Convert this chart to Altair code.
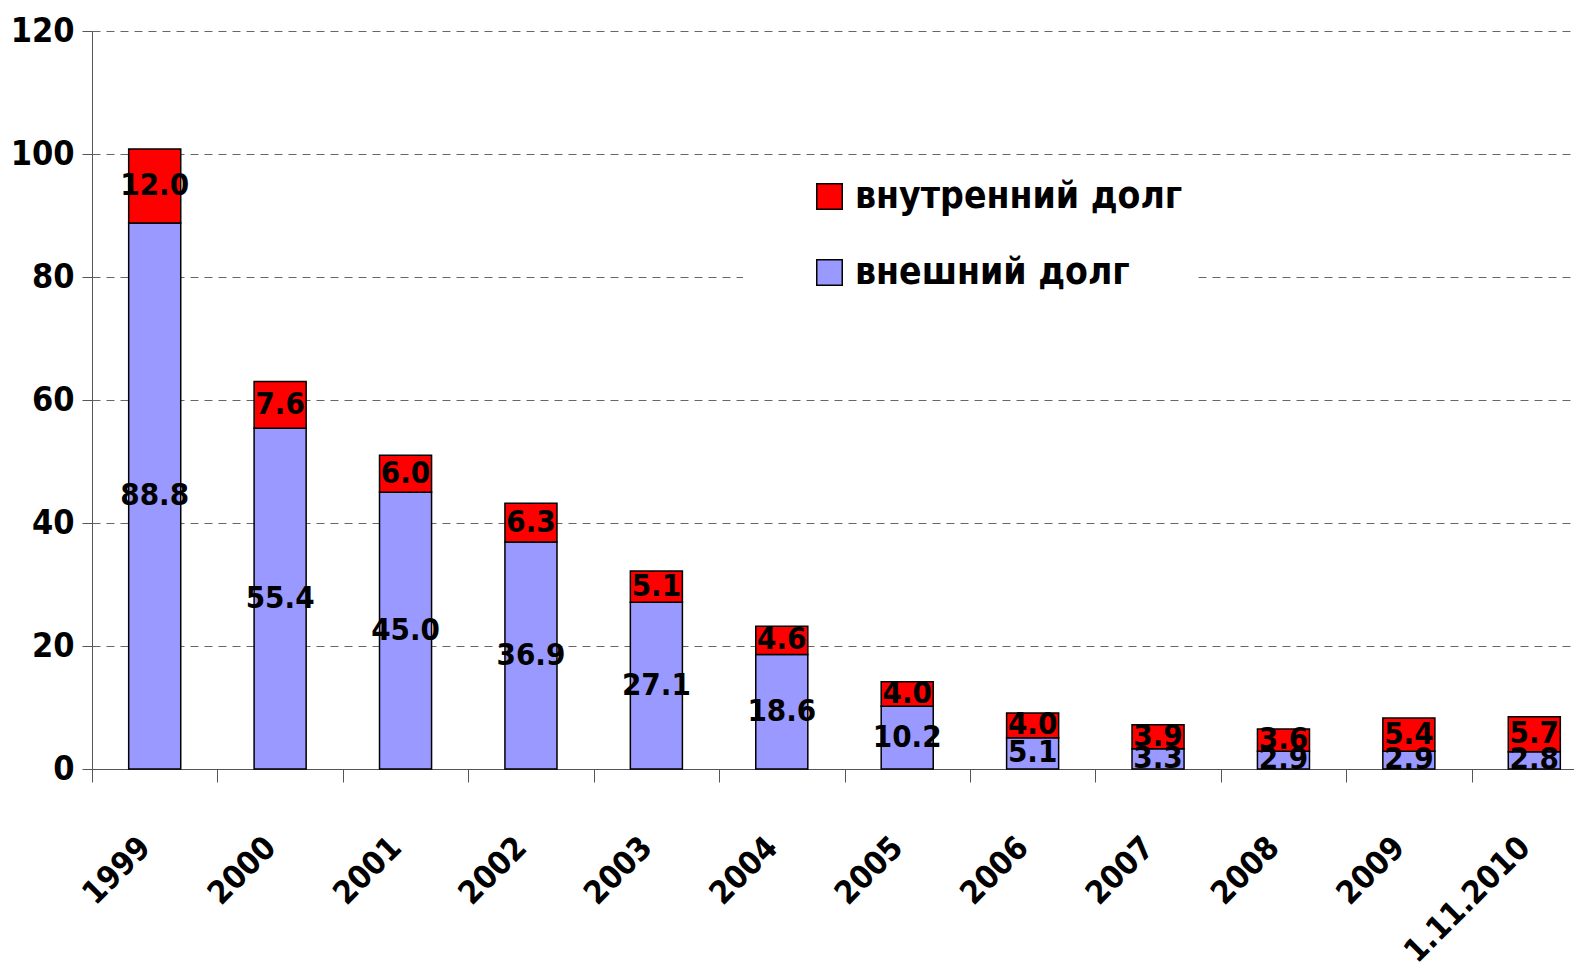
import altair as alt
import pandas as pd

categories = ["1999", "2000", "2001", "2002", "2003", "2004", "2005", "2006", "2007", "2008", "2009", "1.11.2010"]
external_debt = [88.8, 55.4, 45.0, 36.9, 27.1, 18.6, 10.2, 5.1, 3.3, 2.9, 2.9, 2.8]
internal_debt = [12.0, 7.6, 6.0, 6.3, 5.1, 4.6, 4.0, 4.0, 3.9, 3.6, 5.4, 5.7]
series_names = ["внутренний долг", "внешний долг"]
series_colors = ["#FF0000", "#9999FF"]

rows = []
for c, e, i in zip(categories, external_debt, internal_debt):
    rows.append({"cat": c, "series": series_names[1], "value": e, "ord": 0})
    rows.append({"cat": c, "series": series_names[0], "value": i, "ord": 1})
df = pd.DataFrame(rows)

FONT = "'DejaVu Sans Condensed', 'Liberation Sans', sans-serif"

base = alt.Chart(df).transform_stack(
    stack="value", groupby=["cat"], as_=["v0", "v1"],
    sort=[alt.SortField("ord", order="ascending")]
).transform_calculate(mid="(datum.v0 + datum.v1) / 2")

x_scale = alt.Scale(paddingInner=0, paddingOuter=0, range=[0, 1505])

x_enc = alt.X("cat:N", sort=categories, title=None, scale=x_scale,
              axis=alt.Axis(labelAngle=-45, labelAlign="right", labelBaseline="middle",
                            labelFontSize=32, labelFont=FONT, labelFontWeight="bold",
                            labelColor="black", labelPadding=60, tickBand="extent",
                            tickSize=13, tickColor="#555555", domainColor="#555555",
                            labelOffset=-10, grid=False, labelLimit=0))

bars = base.mark_bar(stroke="black", strokeWidth=1.5, width={"band": 0.415}).encode(
    x=x_enc,
    y=alt.Y("v0:Q", title=None, scale=alt.Scale(domain=[0, 120]),
            axis=alt.Axis(values=[0, 20, 40, 60, 80, 100, 120], labelFontSize=34,
                          labelFont=FONT, labelFontWeight="bold", labelColor="black",
                          tickSize=10, tickColor="#555555", domainColor="#555555",
                          labelPadding=8, grid=True, gridDash=[8, 6], gridColor="#666666",
                          gridWidth=1)),
    y2="v1:Q",
    color=alt.Color("series:N", scale=alt.Scale(domain=series_names, range=series_colors),
                    legend=alt.Legend(title=None, orient="none", legendX=651, legendY=137,
                                      labelFontSize=37, labelFont=FONT, labelFontWeight="bold",
                                      labelColor="black", symbolType="square", symbolSize=650,
                                      symbolStrokeColor="black", symbolStrokeWidth=1.5,
                                      rowPadding=38, labelOffset=7, fillColor="white",
                                      padding=10, symbolOffset=58, labelLimit=0)),
)

labels = base.mark_text(fontSize=31, font=FONT, fontWeight="bold", color="black",
                        baseline="middle", align="center").encode(
    x=alt.X("cat:N", sort=categories, scale=x_scale),
    y=alt.Y("mid:Q"),
    text=alt.Text("value:Q", format=".1f"),
)

chart = alt.layer(bars, labels).properties(
    width=1482, height=738,
    autosize=alt.AutoSizeParams(type="none"),
    padding={"left": 84, "top": 23, "right": 0, "bottom": 194},
).configure_view(stroke=None)

chart.save("out.html", embed_options={"renderer": "svg", "actions": False})
